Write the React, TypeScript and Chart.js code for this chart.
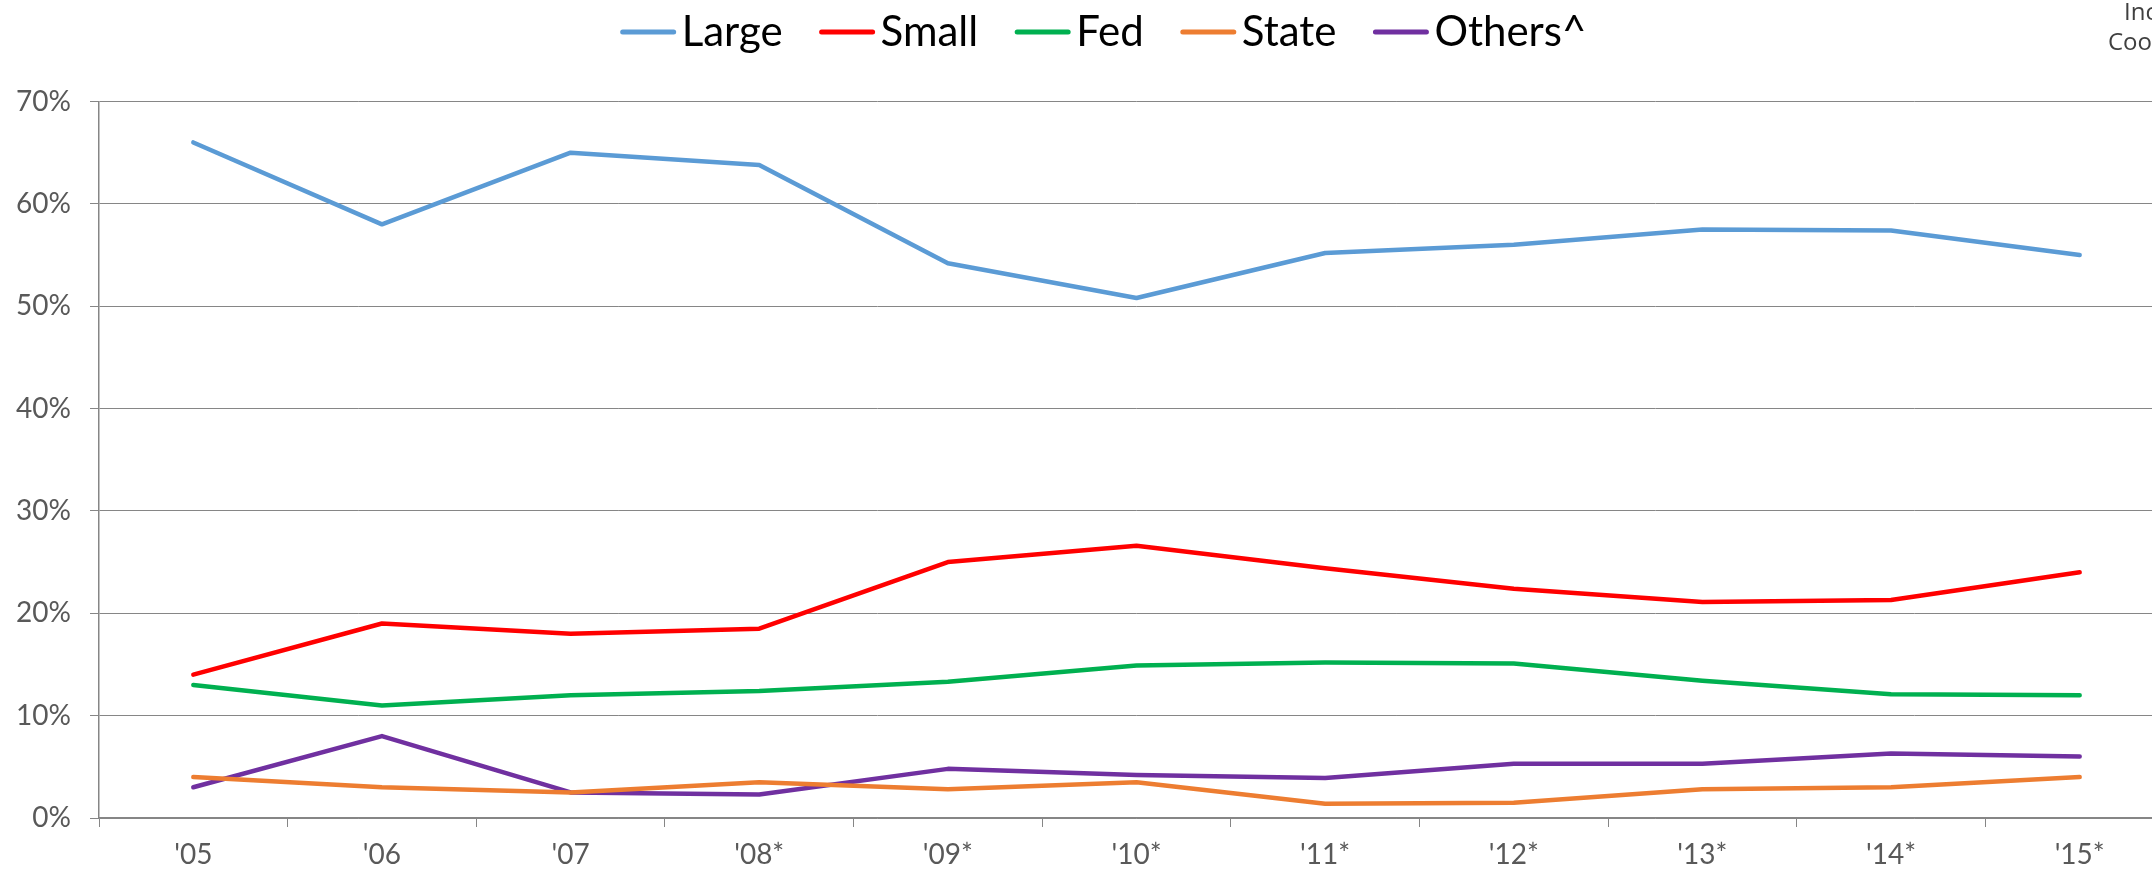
import React, { useEffect, useRef } from "react";
import { Chart, registerables } from "chart.js";

Chart.register(...registerables);

const categories = ["'05", "'06", "'07", "'08*", "'09*", "'10*", "'11*", "'12*", "'13*", "'14*", "'15*"];
const largeValues = [66.0, 58.0, 65.0, 63.8, 54.2, 50.8, 55.2, 56.0, 57.5, 57.4, 55.0];
const smallValues = [14.0, 19.0, 18.0, 18.5, 25.0, 26.6, 24.4, 22.4, 21.1, 21.3, 24.0];
const fedValues = [13.0, 11.0, 12.0, 12.4, 13.3, 14.9, 15.2, 15.1, 13.4, 12.1, 12.0];
const stateValues = [4.0, 3.0, 2.5, 3.5, 2.8, 3.5, 1.4, 1.5, 2.8, 3.0, 4.0];
const othersValues = [3.0, 8.0, 2.5, 2.3, 4.8, 4.2, 3.9, 5.3, 5.3, 6.3, 6.0];
const seriesNames = ["Large", "Small", "Fed", "State", "Others^"];
const seriesColors = ["#5B9BD5", "#FF0000", "#00B050", "#ED7D31", "#7030A0"];
const yMin = 0;
const yMax = 70;
const yStep = 10;
const noteLines = ["Inc", "Coo"];

const CANVAS_W = 2207;
const CANVAS_H = 870;

const legendPlugin = {
  id: "customLegend",
  afterDraw(chart: any) {
    const ctx = chart.ctx;
    ctx.save();
    ctx.font = "42px Lato";
    const handle = 55;
    const gap = 6;
    const spacing = 37;
    const items = chart.data.datasets.map((ds: any) => ({
      label: ds.label,
      color: ds.borderColor,
      w: handle + gap + ctx.measureText(ds.label).width,
    }));
    const total = items.reduce((s: number, it: any) => s + it.w, 0) + spacing * (items.length - 1);
    let x = chart.width / 2 - total / 2;
    const lineY = 32;
    const textY = 46;
    items.forEach((it: any) => {
      ctx.strokeStyle = it.color;
      ctx.lineWidth = 5;
      ctx.lineCap = "round";
      ctx.beginPath();
      ctx.moveTo(x + 2, lineY);
      ctx.lineTo(x + handle - 2, lineY);
      ctx.stroke();
      ctx.fillStyle = "#000000";
      ctx.textAlign = "left";
      ctx.textBaseline = "alphabetic";
      ctx.fillText(it.label, x + handle + gap, textY);
      x += it.w + spacing;
    });
    // side note (cut off at the right edge in the original)
    ctx.font = "24px 'Open Sans'";
    ctx.fillStyle = "#404040";
    ctx.fillText(noteLines[0], 2124, 20);
    ctx.fillText(noteLines[1], 2108, 50);
    ctx.restore();
  },
};

export default function App() {
  const ref = useRef<HTMLCanvasElement | null>(null);

  useEffect(() => {
    if (!ref.current) return;
    const values = [largeValues, smallValues, fedValues, stateValues, othersValues];
    const chart = new Chart(ref.current, {
      type: "line",
      data: {
        labels: categories,
        datasets: seriesNames.map((name, i) => ({
          label: name,
          data: values[i],
          borderColor: seriesColors[i],
          backgroundColor: seriesColors[i],
          borderWidth: 4.5,
          pointRadius: 0,
          pointHoverRadius: 0,
          tension: 0,
          borderCapStyle: "round" as const,
          borderJoinStyle: "round" as const,
          fill: false,
        })),
      },
      options: {
        responsive: false,
        animation: false,
        devicePixelRatio: 1,
        layout: { padding: { top: 101.5, right: 33, left: 0, bottom: 0 } },
        plugins: {
          legend: { display: false },
          title: { display: false },
          tooltip: { enabled: false },
        },
        scales: {
          x: {
            type: "category",
            offset: true,
            grid: {
              display: true,
              drawOnChartArea: false,
              drawTicks: true,
              tickLength: 9,
              color: "#868686",
              lineWidth: 1,
              offset: true,
            },
            border: { display: true, color: "#868686", width: 1.5 },
            ticks: {
              color: "#595959",
              font: { family: "Lato", size: 28 },
              padding: 11,
              maxRotation: 0,
              autoSkip: false,
            },
            afterFit: (scale: any) => {
              scale.height = 52;
            },
          },
          y: {
            min: yMin,
            max: yMax,
            ticks: {
              stepSize: yStep,
              color: "#595959",
              font: { family: "Lato", size: 28 },
              padding: 19,
              callback: (v: any) => v + "%",
            },
            grid: {
              color: "#868686",
              lineWidth: 1,
              tickLength: 9,
              drawTicks: true,
            },
            border: { display: true, color: "#868686", width: 1.5 },
            afterFit: (scale: any) => {
              scale.width = 99;
            },
          },
        },
      },
      plugins: [legendPlugin],
    });
    return () => chart.destroy();
  }, []);

  return (
    <div
      style={{
        position: "fixed",
        left: 0,
        top: 0,
        width: 2152,
        height: 870,
        overflow: "hidden",
        background: "#ffffff",
      }}
    >
      <canvas
        ref={ref}
        width={CANVAS_W}
        height={CANVAS_H}
        style={{ display: "block", width: CANVAS_W, height: CANVAS_H }}
      />
    </div>
  );
}
